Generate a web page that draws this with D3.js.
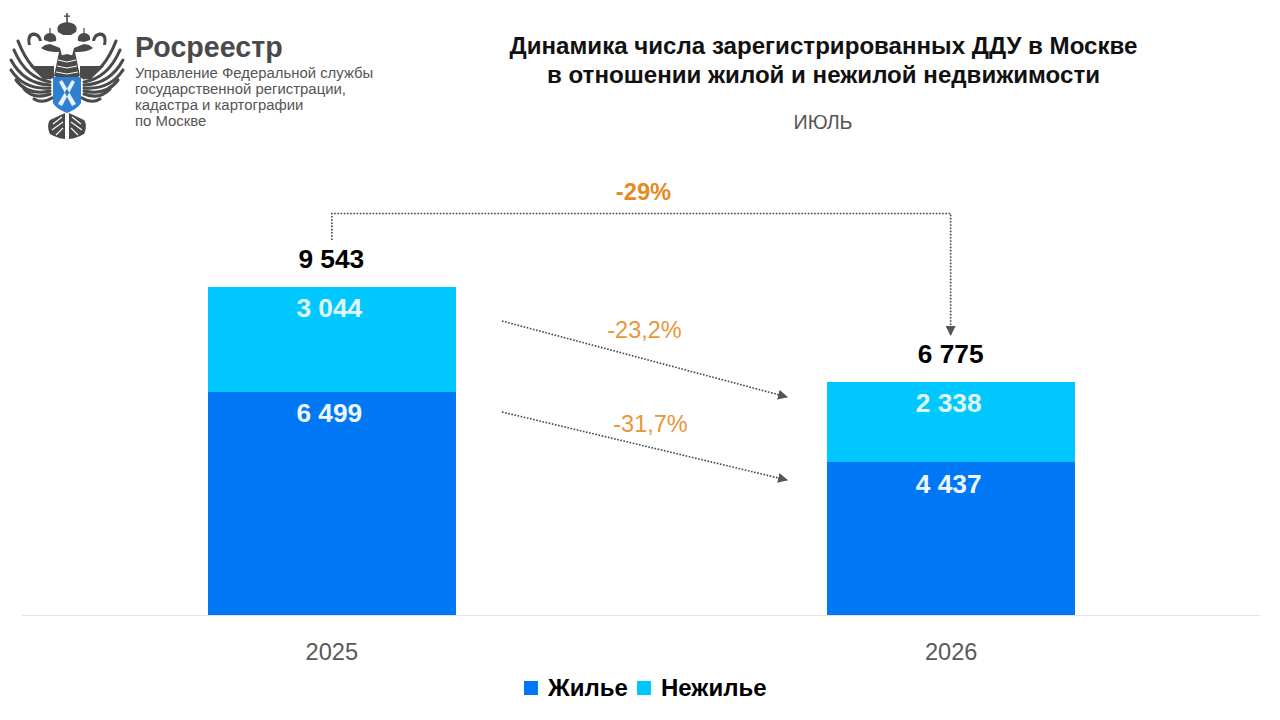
<!DOCTYPE html>
<html><head><meta charset="utf-8">
<script src="https://cdn.jsdelivr.net/npm/d3@7/dist/d3.min.js"></script>
<style>html,body{margin:0;padding:0;background:#fff}svg{display:block}text{font-family:"Liberation Sans",Arial,sans-serif}</style>
</head><body><svg id="c" width="1280" height="720"></svg>
<script>
const years=["2025","2026"];
const housing=[6499,4437];
const nonHousing=[3044,2338];
const totals=[9543,6775];
const totalLabels=["9 543","6 775"];
const housingLabels=["6 499","4 437"];
const nonHousingLabels=["3 044","2 338"];
const seriesNames=["Жилье","Нежилье"];
const colors=["#0078f5","#00c8ff"];
const changeTotal="-29%",changeNon="-23,2%",changeHousing="-31,7%";

const svg=d3.select("#c");
const x=d3.scaleBand().domain(years).range([208,1075]).paddingInner(0.6).paddingOuter(0);
const y=d3.scaleLinear().domain([0,9543]).range([615,287]);
const T=(s,px,py,size,fill,weight,anchor="middle")=>svg.append("text").attr("x",px).attr("y",py).attr("font-size",size).attr("fill",fill).attr("font-weight",weight||"normal").attr("text-anchor",anchor).text(s);

// logo (emblem drawn as a decorative sketch)
const logo=svg.append("g").attr("fill","#4a4a4a");
const half=logo.append("g").attr("id","half");
const feathers=["M50 78 Q30 72 18 41","M50 82 Q26 78 14 50","M50 85 Q24 84 11 60","M50 88 Q24 90 11 70","M50 91 Q28 96 16 80","M50 94 Q34 100 24 89","M52 98 Q42 104 34 99"];
feathers.forEach(d=>half.append("path").attr("d",d).attr("fill","none").attr("stroke","#4a4a4a").attr("stroke-width",3.1).attr("stroke-linecap","round"));
half.append("path").attr("d","M30 66 L54 66 L54 78 L44 80Z");
half.append("path").attr("d","M59 52 C54 52 46 52 41 48 L45 45 L50 44 L60 48 L62 56 L58 76 L54 76Z");
half.append("path").attr("d","M28 45 C26 37 29 31 36 33 C40 34 41 37 42 41 L39 41 C38 37 36 36 33 36 C30 37 30 41 31 45Z");
half.append("path").attr("d","M44 40 C43 36 46 33 50 33 C54 33 57 36 56 41 L50 42Z");
half.append("rect").attr("x",49.4).attr("y",28).attr("width",1.2).attr("height",6);
half.append("path").attr("d","M50 120 L65 113 L65 139 C60 139 54 136 50 134 C48 130 47 124 50 120Z");
["M53 124 L62 117","M52 130 L63 122","M56 135 L63 128"].forEach(d=>half.append("path").attr("d",d).attr("stroke","#fff").attr("stroke-width",1.1));
half.append("path").attr("d","M59 56 L67 54 L67 78 L55 78 C57 72 57 64 59 56Z");
["M58 60 L67 62","M57 66 L67 68","M56 72 L67 74"].forEach(d=>half.append("path").attr("d",d).attr("stroke","#fff").attr("stroke-width",1));
logo.append("use").attr("href","#half").attr("transform","translate(134,0) scale(-1,1)");
logo.append("path").attr("d","M58 32 C56 26 59 23 67 22 C75 23 78 26 76 32 L71 35 L63 35Z");
logo.append("rect").attr("x",66.2).attr("y",13).attr("width",1.6).attr("height",9);
logo.append("rect").attr("x",64).attr("y",15.5).attr("width",6).attr("height",1.3);
logo.append("path").attr("d","M53 77 L81 77 L81 103 C78 108 72 111 67 113 C62 111 56 108 53 103Z").attr("fill","#2f80d0");
logo.append("path").attr("d","M59 82 L62 80 L76 104 L72 106Z M75 82 L72 80 L58 104 L62 106Z").attr("fill","#e8f2fb");
T("Росреестр",135,56.5,28.6,"#4a4a4a","bold","start");
["Управление Федеральной службы","государственной регистрации,","кадастра и картографии","по Москве"].forEach((s,i)=>T(s,135,78+i*16,14.9,"#555","normal","start"));

// titles
T("Динамика числа зарегистрированных ДДУ в Москве",823.5,54,24.1,"#111","bold");
T("в отношении жилой и нежилой недвижимости",823.5,83,24.1,"#111","bold");
T("ИЮЛЬ",823,129,19.7,"#555");

// baseline
svg.append("line").attr("x1",22).attr("x2",1260).attr("y1",y(0)+.5).attr("y2",y(0)+.5).attr("stroke","#e4e4e4");

// bars
const stack=d3.stack().keys([0,1]).value((d,k)=>d[k])(years.map((_,i)=>[housing[i],nonHousing[i]]));
stack.forEach((s,k)=>svg.append("g").attr("shape-rendering","crispEdges").selectAll("rect").data(s).join("rect")
  .attr("x",(d,i)=>x(years[i])).attr("width",x.bandwidth())
  .attr("y",d=>y(d[1])).attr("height",d=>y(d[0])-y(d[1])).attr("fill",colors[k]));
const cx=i=>x(years[i])+x.bandwidth()/2;
years.forEach((yr,i)=>{
  T(totalLabels[i],cx(i)-.5,y(totals[i])-19,26.3,"#000","bold");
  T(nonHousingLabels[i],cx(i)-2.5,y(totals[i])+30,26.3,"#e0f7ff","bold");
  T(housingLabels[i],cx(i)-2.5,y(housing[i])+30.5,26.3,"#eef7ff","bold");
  T(yr,cx(i),660,23.6,"#595959");
});

// arrows
const defs=svg.append("defs");
defs.append("marker").attr("id","arr").attr("viewBox","0 0 10 10").attr("refX",9).attr("refY",5).attr("markerWidth",10).attr("markerHeight",10).attr("markerUnits","userSpaceOnUse").attr("orient","auto")
 .append("path").attr("d","M0 0L10 5L0 10Z").attr("fill","#555");
const dotted=p=>svg.append("path").attr("d",p).attr("fill","none").attr("stroke","#444").attr("stroke-width",1.6).attr("stroke-dasharray","1.6 1.6").attr("marker-end","url(#arr)");
dotted(d3.line()([[cx(0),240],[cx(0),213.5],[cx(1)-.5,213.5],[cx(1)-.5,335]]));
dotted(d3.line()([[502,321],[787,397]]));
dotted(d3.line()([[502,412],[787,480]]));
T(changeTotal,643.5,200,23.7,"#e58a1f","bold");
T(changeNon,644.5,338,23.5,"#e8963a");
T(changeHousing,650.5,432,23.5,"#e8963a");

// legend
const lg=[[524,548],[637,661]];
seriesNames.forEach((n,i)=>{
  svg.append("rect").attr("x",lg[i][0]).attr("y",681).attr("width",14).attr("height",14).attr("fill",colors[i]);
  T(n,lg[i][1],696,24,"#000","bold","start");
});
</script></body></html>
